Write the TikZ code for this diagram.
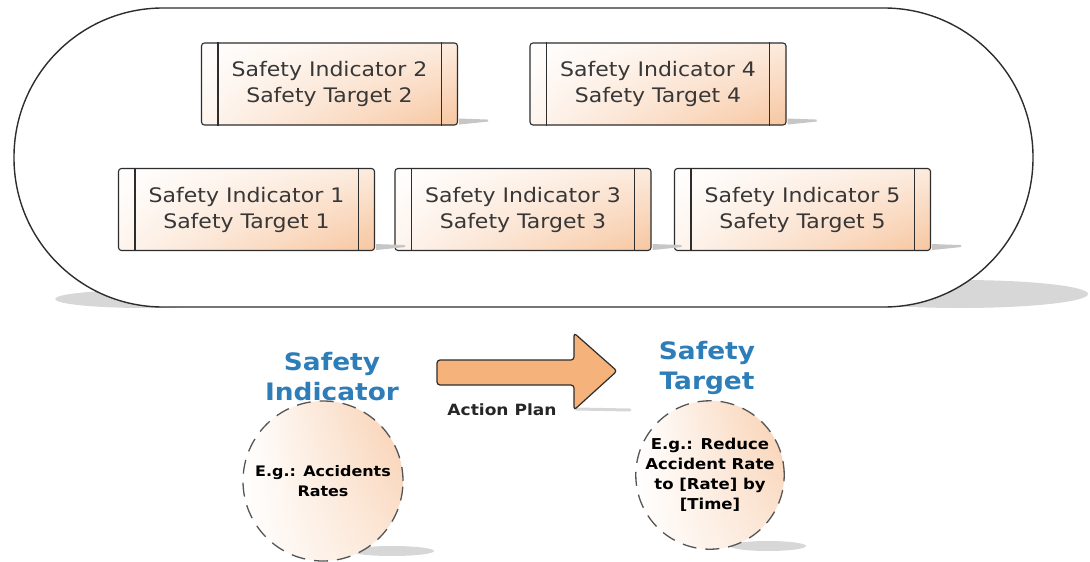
\documentclass[tikz,border=0pt]{standalone}
\usepackage{fontspec}
\usetikzlibrary{shadings}
\setmainfont{DejaVu Sans}[FakeStretch=1.1]
\definecolor{textgray}{RGB}{55,55,55}
\definecolor{boxline}{RGB}{45,45,45}
\definecolor{titleblue}{RGB}{45,125,185}
\definecolor{peach}{RGB}{247,198,160}
\definecolor{arrowfill}{RGB}{245,178,122}
\definecolor{shadowgray}{RGB}{215,215,215}
\definecolor{dashgray}{RGB}{85,85,85}
\begin{document}
\begin{tikzpicture}[x=1pt,y=1pt,
  box/.style={draw=boxline, line width=1.1pt, rounded corners=3pt,
    minimum width=256pt, minimum height=82pt, inner sep=0pt, align=center,
    text=textgray, font=\fontsize{20}{26}\selectfont,
    upper left=white, upper right=peach!35, lower left=peach!18, lower right=peach},
  title/.style={align=center, text=titleblue, font=\bfseries\fontsize{24}{30}\selectfont},
  example/.style={circle, draw=dashgray, line width=1.3pt, dash pattern=on 14pt off 9pt,
    align=center, inner sep=0pt,
    upper left=white, upper right=peach!85, lower left=white, lower right=peach!45}]
\useasboundingbox (0,0) rectangle (1090,-562);

% soft shadow beneath the group outline
\fill[shadowgray] (145,-299) ellipse [x radius=90, y radius=9];
\fill[shadowgray] (960,-294) ellipse [x radius=128, y radius=14];
% group outline
\node[draw=boxline, line width=1.4pt, fill=white, rounded corners=149pt,
  minimum width=1019pt, minimum height=299pt, inner sep=0pt] (group) at (523.5,-157.5) {};

% indicator / target pairs
\node[box] (b2) at (329.5,-84) {Safety Indicator 2\\Safety Target 2};
\node[box] (b4) at (658,-84) {Safety Indicator 4\\Safety Target 4};
\node[box] (b1) at (246.5,-209.5) {Safety Indicator 1\\Safety Target 1};
\node[box] (b3) at (523,-209.5) {Safety Indicator 3\\Safety Target 3};
\node[box] (b5) at (802.5,-209.5) {Safety Indicator 5\\Safety Target 5};

\foreach \b in {b1,b2,b3,b4,b5} {
  \draw[boxline, line width=1.1pt] ([xshift=17pt]\b.north west) -- ([xshift=17pt]\b.south west);
  \draw[boxline, line width=1.1pt] ([xshift=-17pt]\b.north east) -- ([xshift=-17pt]\b.south east);
  \fill[shadowgray!80!gray] ([shift={(1,7)}]\b.south east) -- ([shift={(30,6)}]\b.south east)
    -- ([shift={(30,4)}]\b.south east) -- ([shift={(1,1)}]\b.south east) -- cycle;
}

% lower legend
\node[title] (ti) at (332,-377) {Safety\\Indicator};
\node[title] (tt) at (707,-368) {Safety\\Target};

\fill[shadowgray] (392,-551) ellipse [x radius=42, y radius=5];
\fill[shadowgray] (768,-546) ellipse [x radius=38, y radius=5];
\node[example, minimum size=160pt, font=\bfseries\fontsize{14.5}{20}\selectfont] (ci) at (323,-481) {E.g.: Accidents\\Rates};
\node[example, minimum size=148pt, font=\bfseries\fontsize{15}{20}\selectfont] (ct) at (710,-475) {E.g.: Reduce\\Accident Rate\\to {[Rate]} by\\{[Time]}};

% action plan arrow
\draw[shadowgray, line width=3pt, line cap=round] (576,-409) -- (630,-410);
\draw[boxline, line width=1.2pt, fill=arrowfill, rounded corners=3pt]
  (437,-360) -- (574,-360) -- (574,-333) -- (617,-371) -- (574,-410) -- (574,-385) -- (437,-385) -- cycle;
\node[font=\bfseries\fontsize{15.5}{19}\selectfont, text=black!85] (ap) at (502,-410) {Action Plan};
\end{tikzpicture}
\end{document}
